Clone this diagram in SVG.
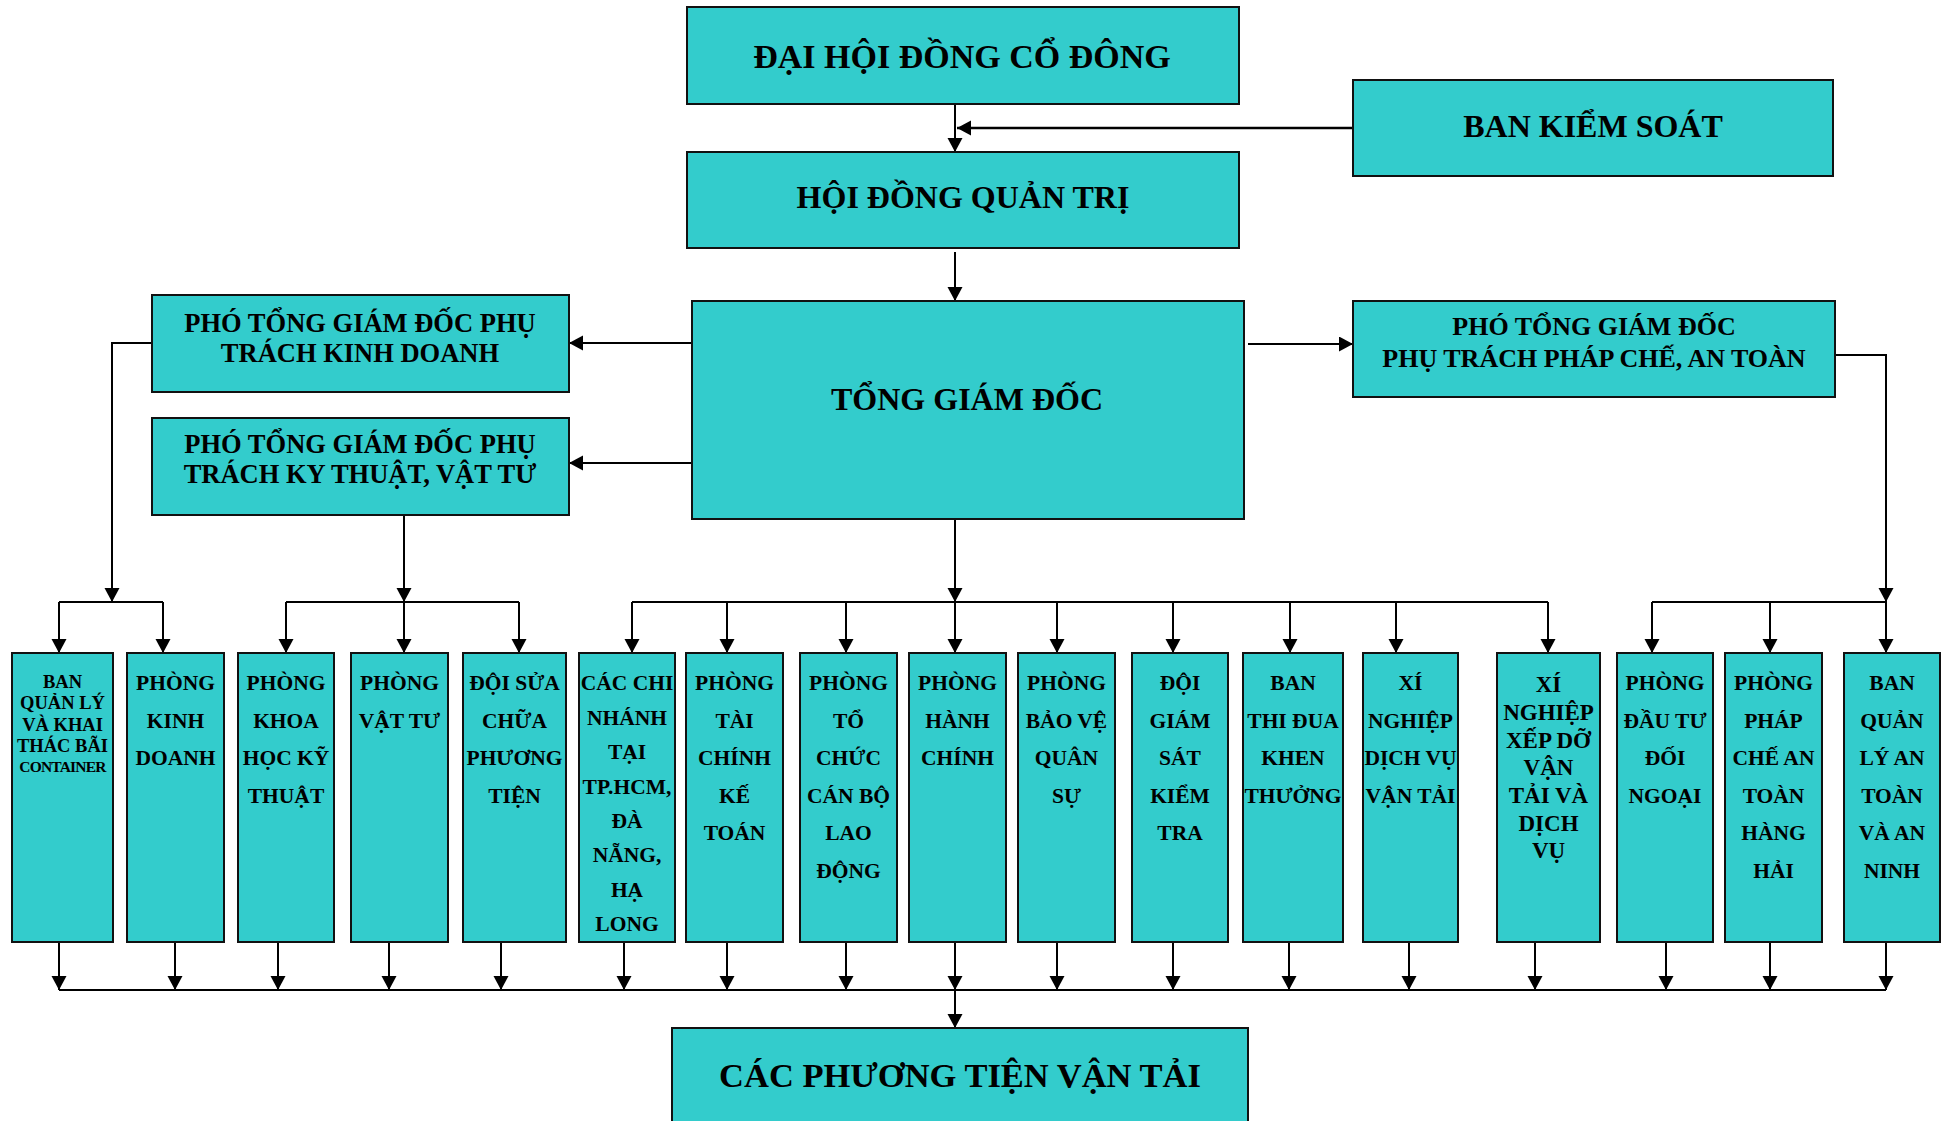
<svg xmlns="http://www.w3.org/2000/svg" width="1951" height="1121" viewBox="0 0 1951 1121">
<style>
.box{fill:#33CCCC;stroke:#111;stroke-width:2}
.t{font-family:"Liberation Serif","Times New Roman",serif;font-weight:bold;fill:#000;text-anchor:middle}
.big{font-size:34px}
.mid{font-size:26.5px}
.sm{font-size:21.5px}
.ln{fill:none;stroke:#000;stroke-width:2}
.ar{fill:none;stroke:#000;stroke-width:2;marker-end:url(#ah)}
</style>
<defs>
<marker id="ah" markerUnits="userSpaceOnUse" markerWidth="16" markerHeight="16" refX="14" refY="7.5" orient="auto">
<path d="M0,0 L14,7.5 L0,15 z" fill="#000"/>
</marker>
</defs>
<rect width="1951" height="1121" fill="#fff"/>

<g id="connectors">
<path class="ar" d="M955,104 V152"/>
<path class="ar" d="M1353,128 H957" style="stroke-width:2.5"/>
<path class="ar" d="M955,252 V301"/>
<path class="ar" d="M692,343 H569"/>
<path class="ar" d="M692,463 H569"/>
<path class="ar" d="M1248,344 H1353"/>
<path class="ar" d="M152,343 H112 V602"/>
<path class="ar" d="M404,515 V602"/>
<path class="ar" d="M955,519 V602"/>
<path class="ar" d="M1835,355 H1886 V602"/>
<path class="ln" d="M59,602 H163 M286,602 H519 M632,602 H1548 M1652,602 H1886"/>
<path class="ar" d="M59,602 V653"/>
<path class="ar" d="M163,602 V653"/>
<path class="ar" d="M286,602 V653"/>
<path class="ar" d="M404,602 V653"/>
<path class="ar" d="M519,602 V653"/>
<path class="ar" d="M632,602 V653"/>
<path class="ar" d="M727,602 V653"/>
<path class="ar" d="M846,602 V653"/>
<path class="ar" d="M955,602 V653"/>
<path class="ar" d="M1057,602 V653"/>
<path class="ar" d="M1173,602 V653"/>
<path class="ar" d="M1290,602 V653"/>
<path class="ar" d="M1396,602 V653"/>
<path class="ar" d="M1548,602 V653"/>
<path class="ar" d="M1652,602 V653"/>
<path class="ar" d="M1770,602 V653"/>
<path class="ar" d="M1886,602 V653"/>
<path class="ar" d="M59,942 V990"/>
<path class="ar" d="M175,942 V990"/>
<path class="ar" d="M278,942 V990"/>
<path class="ar" d="M389,942 V990"/>
<path class="ar" d="M501,942 V990"/>
<path class="ar" d="M624,942 V990"/>
<path class="ar" d="M727,942 V990"/>
<path class="ar" d="M846,942 V990"/>
<path class="ar" d="M955,942 V990"/>
<path class="ar" d="M1057,942 V990"/>
<path class="ar" d="M1173,942 V990"/>
<path class="ar" d="M1289,942 V990"/>
<path class="ar" d="M1409,942 V990"/>
<path class="ar" d="M1535,942 V990"/>
<path class="ar" d="M1666,942 V990"/>
<path class="ar" d="M1770,942 V990"/>
<path class="ar" d="M1886,942 V990"/>
<path class="ln" d="M59,990 H1886"/>
<path class="ar" d="M955,990 V1028"/>
</g>

<g id="dhdcd"><rect class="box" x="687" y="7" width="552" height="97"/><text class="t big" x="962" y="68">ĐẠI HỘI ĐỒNG CỔ ĐÔNG</text></g>
<g id="bks"><rect class="box" x="1353" y="80" width="480" height="96"/><text class="t" style="font-size:32px" x="1593" y="137">BAN KIỂM SOÁT</text></g>
<g id="hdqt"><rect class="box" x="687" y="152" width="552" height="96"/><text class="t" style="font-size:32px" x="963" y="208">HỘI ĐỒNG QUẢN TRỊ</text></g>
<g id="tgd"><rect class="box" x="692" y="301" width="552" height="218"/><text class="t" style="font-size:32px" x="967" y="410">TỔNG GIÁM ĐỐC</text></g>
<g id="ptgd-pc"><rect class="box" x="1353" y="301" width="482" height="96"/><text class="t" style="font-size:26px"><tspan x="1594" y="335">PHÓ TỔNG GIÁM ĐỐC</tspan><tspan x="1594" y="367">PHỤ TRÁCH PHÁP CHẾ, AN TOÀN</tspan></text></g>
<g id="ptgd-kd"><rect class="box" x="152" y="295" width="417" height="97"/><text class="t mid"><tspan x="360" y="332">PHÓ TỔNG GIÁM ĐỐC PHỤ</tspan><tspan x="360" y="362">TRÁCH KINH DOANH</tspan></text></g>
<g id="ptgd-kt"><rect class="box" x="152" y="418" width="417" height="97"/><text class="t mid"><tspan x="360" y="453">PHÓ TỔNG GIÁM ĐỐC PHỤ</tspan><tspan x="360" y="483">TRÁCH KY THUẬT, VẬT TƯ</tspan></text></g>
<g id="cptvt"><rect class="box" x="672" y="1028" width="576" height="110"/><text class="t" style="font-size:34.5px" x="960" y="1087">CÁC PHƯƠNG TIỆN VẬN TẢI</text></g>

<g id="b1"><rect class="box" x="12" y="653" width="101" height="289"/><text class="t" style="font-size:18.5px"><tspan x="62.5" y="688">BAN</tspan><tspan x="62.5" y="709">QUẢN LÝ</tspan><tspan x="62.5" y="731">VÀ KHAI</tspan><tspan x="62.5" y="752">THÁC BÃI</tspan><tspan x="62.5" y="772" style="font-size:15.5px;letter-spacing:-0.8px">CONTAINER</tspan></text></g>
<g id="b2"><rect class="box" x="127" y="653" width="97" height="289"/><text class="t sm"><tspan x="175.5" y="690">PHÒNG</tspan><tspan x="175.5" y="727.5">KINH</tspan><tspan x="175.5" y="765">DOANH</tspan></text></g>
<g id="b3"><rect class="box" x="238" y="653" width="96" height="289"/><text class="t sm"><tspan x="286" y="690">PHÒNG</tspan><tspan x="286" y="727.5">KHOA</tspan><tspan x="286" y="765">HỌC KỸ</tspan><tspan x="286" y="802.5">THUẬT</tspan></text></g>
<g id="b4"><rect class="box" x="351" y="653" width="97" height="289"/><text class="t sm"><tspan x="399.5" y="690">PHÒNG</tspan><tspan x="399.5" y="727.5">VẬT TƯ</tspan></text></g>
<g id="b5"><rect class="box" x="463" y="653" width="103" height="289"/><text class="t sm"><tspan x="514.5" y="690">ĐỘI SỬA</tspan><tspan x="514.5" y="727.5">CHỮA</tspan><tspan x="514.5" y="765">PHƯƠNG</tspan><tspan x="514.5" y="802.5">TIỆN</tspan></text></g>
<g id="b6"><rect class="box" x="579" y="653" width="96" height="289"/><text class="t sm"><tspan x="627" y="690">CÁC CHI</tspan><tspan x="627" y="724.5">NHÁNH</tspan><tspan x="627" y="759">TẠI</tspan><tspan x="627" y="793.5">TP.HCM,</tspan><tspan x="627" y="828">ĐÀ</tspan><tspan x="627" y="862">NẴNG,</tspan><tspan x="627" y="896.5">HẠ</tspan><tspan x="627" y="931">LONG</tspan></text></g>
<g id="b7"><rect class="box" x="686" y="653" width="97" height="289"/><text class="t sm"><tspan x="734.5" y="690">PHÒNG</tspan><tspan x="734.5" y="727.5">TÀI</tspan><tspan x="734.5" y="765">CHÍNH</tspan><tspan x="734.5" y="802.5">KẾ</tspan><tspan x="734.5" y="840">TOÁN</tspan></text></g>
<g id="b8"><rect class="box" x="800" y="653" width="97" height="289"/><text class="t sm"><tspan x="848.5" y="690">PHÒNG</tspan><tspan x="848.5" y="727.5">TỔ</tspan><tspan x="848.5" y="765">CHỨC</tspan><tspan x="848.5" y="802.5">CÁN BỘ</tspan><tspan x="848.5" y="840">LAO</tspan><tspan x="848.5" y="877.5">ĐỘNG</tspan></text></g>
<g id="b9"><rect class="box" x="909" y="653" width="97" height="289"/><text class="t sm"><tspan x="957.5" y="690">PHÒNG</tspan><tspan x="957.5" y="727.5">HÀNH</tspan><tspan x="957.5" y="765">CHÍNH</tspan></text></g>
<g id="b10"><rect class="box" x="1018" y="653" width="97" height="289"/><text class="t sm"><tspan x="1066.5" y="690">PHÒNG</tspan><tspan x="1066.5" y="727.5">BẢO VỆ</tspan><tspan x="1066.5" y="765">QUÂN</tspan><tspan x="1066.5" y="802.5">SỰ</tspan></text></g>
<g id="b11"><rect class="box" x="1132" y="653" width="96" height="289"/><text class="t sm"><tspan x="1180" y="690">ĐỘI</tspan><tspan x="1180" y="727.5">GIÁM</tspan><tspan x="1180" y="765">SÁT</tspan><tspan x="1180" y="802.5">KIỂM</tspan><tspan x="1180" y="840">TRA</tspan></text></g>
<g id="b12"><rect class="box" x="1243" y="653" width="100" height="289"/><text class="t sm"><tspan x="1293" y="690">BAN</tspan><tspan x="1293" y="727.5">THI ĐUA</tspan><tspan x="1293" y="765">KHEN</tspan><tspan x="1293" y="802.5">THƯỞNG</tspan></text></g>
<g id="b13"><rect class="box" x="1363" y="653" width="95" height="289"/><text class="t sm"><tspan x="1410.5" y="690">XÍ</tspan><tspan x="1410.5" y="727.5">NGHIỆP</tspan><tspan x="1410.5" y="765">DỊCH VỤ</tspan><tspan x="1410.5" y="802.5">VẬN TẢI</tspan></text></g>
<g id="b14"><rect class="box" x="1497" y="653" width="103" height="289"/><text class="t" style="font-size:23px"><tspan x="1548.5" y="692">XÍ</tspan><tspan x="1548.5" y="720">NGHIỆP</tspan><tspan x="1548.5" y="747.5">XẾP DỠ</tspan><tspan x="1548.5" y="775">VẬN</tspan><tspan x="1548.5" y="803">TẢI VÀ</tspan><tspan x="1548.5" y="830.5">DỊCH</tspan><tspan x="1548.5" y="858">VỤ</tspan></text></g>
<g id="b15"><rect class="box" x="1617" y="653" width="96" height="289"/><text class="t sm"><tspan x="1665" y="690">PHÒNG</tspan><tspan x="1665" y="727.5">ĐẦU TƯ</tspan><tspan x="1665" y="765">ĐỐI</tspan><tspan x="1665" y="802.5">NGOẠI</tspan></text></g>
<g id="b16"><rect class="box" x="1725" y="653" width="97" height="289"/><text class="t sm"><tspan x="1773.5" y="690">PHÒNG</tspan><tspan x="1773.5" y="727.5">PHÁP</tspan><tspan x="1773.5" y="765">CHẾ AN</tspan><tspan x="1773.5" y="802.5">TOÀN</tspan><tspan x="1773.5" y="840">HÀNG</tspan><tspan x="1773.5" y="877.5">HẢI</tspan></text></g>
<g id="b17"><rect class="box" x="1844" y="653" width="96" height="289"/><text class="t sm"><tspan x="1892" y="690">BAN</tspan><tspan x="1892" y="727.5">QUẢN</tspan><tspan x="1892" y="765">LÝ AN</tspan><tspan x="1892" y="802.5">TOÀN</tspan><tspan x="1892" y="840">VÀ AN</tspan><tspan x="1892" y="877.5">NINH</tspan></text></g>
</svg>
